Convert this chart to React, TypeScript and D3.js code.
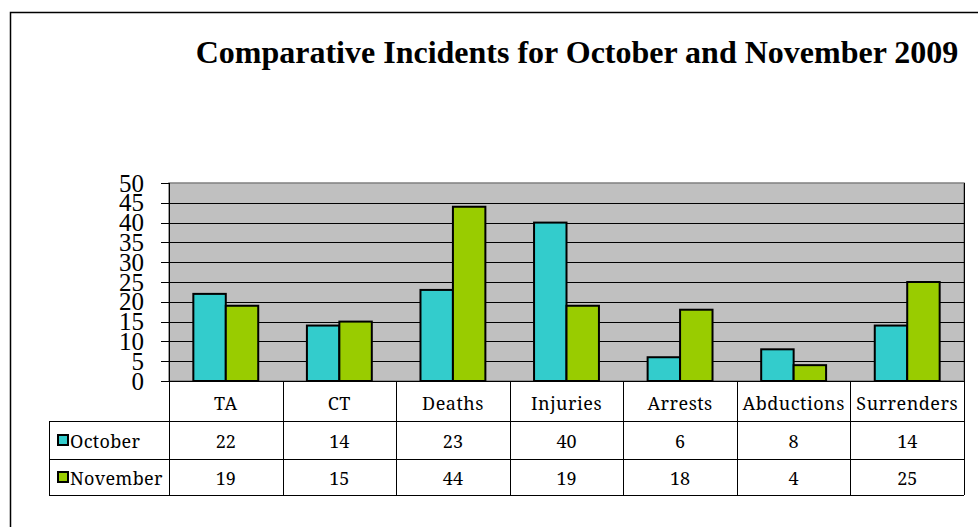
import React from 'react';
import * as d3 from 'd3';

const categories = ['TA', 'CT', 'Deaths', 'Injuries', 'Arrests', 'Abductions', 'Surrenders'];
const october = [22, 14, 23, 40, 6, 8, 14];
const november = [19, 15, 44, 19, 18, 4, 25];
const seriesNames = ['October', 'November'];
const seriesColors = ['#33CCCC', '#99CC00'];
const yTicks = [0, 5, 10, 15, 20, 25, 30, 35, 40, 45, 50];
const title = 'Comparative Incidents for October and November 2009';

export default function App() {
  const width = 978, height = 527;
  const plot = { left: 169, right: 964, top: 183, bottom: 381 };
  const rows = [421, 459, 495];
  const legendLeft = 49;

  const x = d3.scaleBand<string>().domain(categories).range([plot.left, plot.right]);
  const xs = d3.scaleBand<string>().domain(seriesNames).range([0, x.bandwidth()]).paddingOuter(0.75);
  const y = d3.scaleLinear().domain([0, 50]).range([plot.bottom, plot.top]);
  const series = [october, november];
  const tableFont = 'Noto Serif';
  const serif = 'Liberation Serif';

  return (
    <svg width={width} height={height} style={{ position: 'absolute', left: 0, top: 0, background: '#fff' }}>
      {/* outer frame */}
      <path d={`M10.5,${height}V12.5H${width}`} fill="none" stroke="#000" strokeWidth={1.5} />

      <text x={577} y={63} textAnchor="middle" fontFamily={serif} fontWeight="bold" fontSize={32}>
        {title}
      </text>

      {/* plot area */}
      <rect x={plot.left} y={plot.top} width={plot.right - plot.left} height={plot.bottom - plot.top} fill="#C0C0C0" stroke="#808080" strokeWidth={1.5} />
      {yTicks.filter(t => t > 0 && t < 50).map(t => (
        <line key={t} x1={plot.left} x2={plot.right} y1={Math.round(y(t)) + 0.5} y2={Math.round(y(t)) + 0.5} stroke="#000" strokeWidth={1} />
      ))}

      {/* bars */}
      {categories.map((c, i) => (
        <g key={c} transform={`translate(${x(c)},0)`}>
          {series.map((s, j) => (
            <rect key={j} x={xs(seriesNames[j])} y={y(s[i])} width={xs.bandwidth()} height={y(0) - y(s[i])}
              fill={seriesColors[j]} stroke="#000" strokeWidth={2} />
          ))}
        </g>
      ))}

      {/* y axis */}
      <line x1={plot.left + 0.5} x2={plot.left + 0.5} y1={plot.top} y2={rows[2]} stroke="#000" />
      {yTicks.map(t => (
        <g key={t}>
          <line x1={161} x2={plot.left} y1={Math.round(y(t)) + 0.5} y2={Math.round(y(t)) + 0.5} stroke="#000" />
          <text x={144} y={y(t)} dy="0.34em" textAnchor="end" fontFamily={serif} fontSize={25}>{t}</text>
        </g>
      ))}

      {/* data table */}
      <line x1={plot.left} x2={plot.right} y1={plot.bottom + 0.5} y2={plot.bottom + 0.5} stroke="#000" />
      {rows.map(r => (
        <line key={r} x1={legendLeft} x2={plot.right} y1={r + 0.5} y2={r + 0.5} stroke="#000" />
      ))}
      <line x1={legendLeft + 0.5} x2={legendLeft + 0.5} y1={rows[0]} y2={rows[2]} stroke="#000" />
      {categories.map((c, i) => (
        <line key={c} x1={Math.round(x(c)! + x.bandwidth()) + 0.5} x2={Math.round(x(c)! + x.bandwidth()) + 0.5}
          y1={i === categories.length - 1 ? plot.top : plot.bottom} y2={rows[2]} stroke="#000" />
      ))}
      {categories.map(c => (
        <text key={c} x={x(c)! + x.bandwidth() / 2} y={410} textAnchor="middle" fontFamily={tableFont} fontSize={18} letterSpacing={0.5}>{c}</text>
      ))}
      {series.map((s, j) => {
        const base = j === 0 ? 448 : 485;
        const mid = (rows[j] + rows[j + 1]) / 2;
        return (
          <g key={j}>
            <rect x={58} y={mid - 5} width={10} height={10} fill={seriesColors[j]} stroke="#000" strokeWidth={2} />
            <text x={70} y={base} fontFamily={tableFont} fontSize={18} letterSpacing={0.3}>{seriesNames[j]}</text>
            {categories.map((c, i) => (
              <text key={c} x={x(c)! + x.bandwidth() / 2} y={base} textAnchor="middle" fontFamily={tableFont} fontSize={18}>{s[i]}</text>
            ))}
          </g>
        );
      })}
    </svg>
  );
}
